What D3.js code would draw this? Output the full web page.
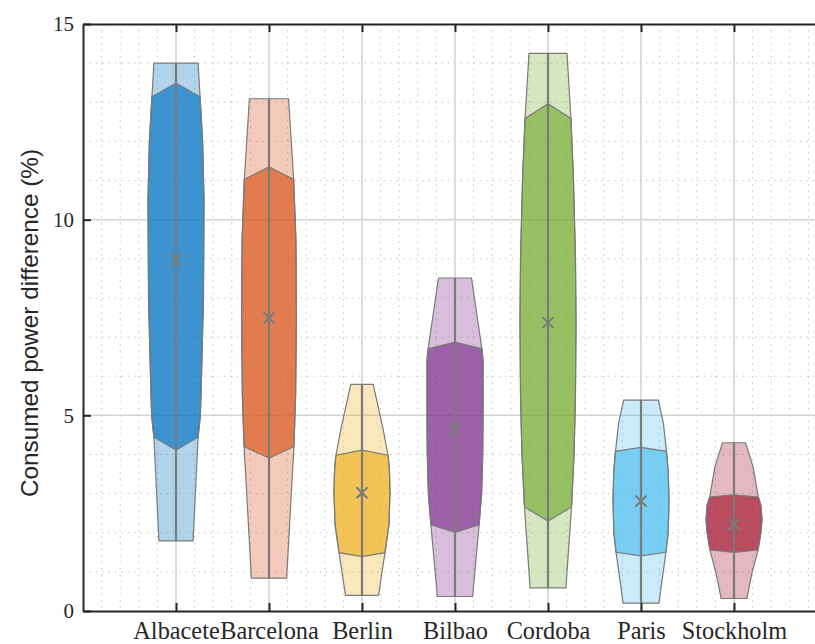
<!DOCTYPE html>
<html>
<head>
<meta charset="utf-8">
<script src="https://cdn.jsdelivr.net/npm/d3@7"></script>
<style>
  html, body { margin: 0; padding: 0; background: #fff; }
  svg { display: block; }
</style>
</head>
<body>
<svg id="chart" width="815" height="644"></svg>
<script>
// Consumed power difference per city, drawn as violins
const cities = ["Albacete", "Barcelona", "Berlin", "Bilbao", "Cordoba", "Paris", "Stockholm"];
const colors = ["#0072BD", "#D95319", "#EDB120", "#7E2F8E", "#77AC30", "#4DBEEE", "#A2142F"];

const minValues  = [1.79, 0.84, 0.40, 0.37, 0.59, 0.20, 0.32];
const maxValues  = [14.00, 13.09, 5.79, 8.51, 14.25, 5.39, 4.30];
const q1Values   = [4.11, 3.91, 1.39, 2.01, 2.30, 1.41, 1.50];
const q3Values   = [13.49, 11.35, 4.11, 6.87, 12.96, 4.18, 2.97];
const q1Edges    = [4.44, 4.20, 1.49, 2.20, 2.66, 1.50, 1.56];
const q3Edges    = [13.14, 11.03, 3.98, 6.70, 12.58, 4.08, 2.91];
const meanValues = [8.97, 7.49, 3.02, 4.64, 7.37, 2.81, 2.21];

// Kernel density profiles: [value, relative density]
const densities = [
  [[1.79,0.61],[4.44,0.79],[5.0,0.87],[6.0,0.91],[8.0,0.98],[10.5,1.0],[12.0,0.95],[13.14,0.86],[14.00,0.79]],
  [[0.84,0.63],[4.20,0.89],[5.5,0.95],[7.5,0.98],[9.5,0.96],[11.03,0.88],[13.09,0.70]],
  [[0.40,0.59],[1.49,0.82],[2.2,0.96],[3.0,1.0],[3.6,0.98],[3.98,0.93],[4.7,0.74],[5.79,0.40]],
  [[0.37,0.63],[2.20,0.86],[3.0,0.95],[4.0,0.99],[5.0,1.0],[6.4,1.0],[6.70,0.96],[8.51,0.59]],
  [[0.59,0.64],[2.66,0.84],[4.0,0.93],[5.5,0.98],[7.4,1.0],[9.0,0.98],[11.0,0.91],[12.58,0.82],[14.25,0.68]],
  [[0.20,0.64],[1.50,0.89],[2.0,0.97],[2.84,1.0],[3.6,0.97],[4.08,0.91],[4.8,0.80],[5.39,0.62]],
  [[0.32,0.46],[0.96,0.64],[1.56,0.86],[2.0,0.96],[2.33,1.0],[2.7,0.96],[2.91,0.87],[3.69,0.68],[4.30,0.41]]
];

const yTicks = [0, 5, 10, 15];

const svg = d3.select("#chart");
const plotLeft = 83, plotTop = 24, plotBottom = 611;

const x = d3.scaleLinear().domain([0, 8]).range([plotLeft, plotLeft + 8 * 93]);
const y = d3.scaleLinear().domain([0, 15]).range([plotBottom, plotTop]);
const step = x(1) - x(0);
const w = d3.scaleLinear().domain([0, 1]).range([0, 0.301 * step]);

const xRight = x(8);

// grid: minor dotted
const grid = svg.append("g");
const minorY = d3.range(1, 15).filter(v => v % 5 !== 0);
grid.selectAll("line.my").data(minorY).join("line")
  .attr("x1", plotLeft).attr("x2", xRight)
  .attr("y1", d => y(d)).attr("y2", d => y(d))
  .attr("stroke", "#b8b8b8").attr("stroke-width", 1)
  .attr("stroke-dasharray", "1.2,5.2");
const minorX = d3.range(1, 40).filter(k => k % 5 !== 0).map(k => k / 5);
grid.selectAll("line.mx").data(minorX).join("line")
  .attr("x1", d => x(d)).attr("x2", d => x(d))
  .attr("y1", plotTop).attr("y2", plotBottom)
  .attr("stroke", "#b8b8b8").attr("stroke-width", 1)
  .attr("stroke-dasharray", "1.2,5.2");
// grid: major solid
grid.selectAll("line.My").data([5, 10]).join("line")
  .attr("x1", plotLeft).attr("x2", xRight)
  .attr("y1", d => y(d)).attr("y2", d => y(d))
  .attr("stroke", "#d4d4d4").attr("stroke-width", 1.5);
grid.selectAll("line.Mx").data(d3.range(1, 8)).join("line")
  .attr("x1", d => x(d)).attr("x2", d => x(d))
  .attr("y1", plotTop).attr("y2", plotBottom)
  .attr("stroke", "#d9d9d9").attr("stroke-width", 1.8);

// violins
const gray = "#7a7a7a";
const violins = svg.append("g");
cities.forEach((c, i) => {
  const cx = x(i + 1);
  const prof = densities[i];
  const g = violins.append("g");

  const outline = prof.map(([v, d]) => [cx + w(d), y(v)])
    .concat(prof.slice().reverse().map(([v, d]) => [cx - w(d), y(v)]));
  g.append("path")
    .attr("d", d3.line()(outline) + "Z")
    .attr("fill", colors[i]).attr("fill-opacity", 0.3)
    .attr("stroke", gray).attr("stroke-width", 1.2);

  const mid = prof.filter(([v]) => v >= q1Edges[i] - 1e-9 && v <= q3Edges[i] + 1e-9);
  const inner = mid.map(([v, d]) => [cx + w(d), y(v)])
    .concat([[cx, y(q3Values[i])]])
    .concat(mid.slice().reverse().map(([v, d]) => [cx - w(d), y(v)]))
    .concat([[cx, y(q1Values[i])]]);
  g.append("path")
    .attr("d", d3.line()(inner) + "Z")
    .attr("fill", colors[i]).attr("fill-opacity", 0.66)
    .attr("stroke", gray).attr("stroke-width", 1.2);

  g.append("line")
    .attr("x1", cx).attr("x2", cx)
    .attr("y1", y(minValues[i])).attr("y2", y(maxValues[i]))
    .attr("stroke", gray).attr("stroke-width", 2.2);

  const my = y(meanValues[i]), s = 5.5;
  g.append("path")
    .attr("d", `M${cx - s},${my - s}L${cx + s},${my + s}M${cx - s},${my + s}L${cx + s},${my - s}`)
    .attr("stroke", gray).attr("stroke-width", 2).attr("fill", "none");
});

// axes
const axisColor = "#262626";
const serif = "'Liberation Serif', 'Times New Roman', serif";

const yAxis = svg.append("g").attr("transform", `translate(${plotLeft},0)`)
  .call(d3.axisLeft(y).tickValues(yTicks).tickSize(-8).tickSizeOuter(0).tickPadding(9).tickFormat(d3.format("d")));
yAxis.selectAll("text").attr("font-family", serif).attr("font-size", 21).attr("fill", axisColor);

const xAxis = svg.append("g").attr("transform", `translate(0,${plotBottom})`)
  .call(d3.axisBottom(x).tickValues(d3.range(1, 8)).tickSize(-8).tickSizeOuter(0).tickPadding(11)
    .tickFormat(d => cities[d - 1]));
xAxis.selectAll("text").attr("font-family", serif).attr("font-size", 24.3).attr("fill", axisColor);

const topAxis = svg.append("g").attr("transform", `translate(0,${plotTop})`)
  .call(d3.axisTop(x).tickValues(d3.range(1, 8)).tickSize(-8).tickSizeOuter(0).tickFormat(""));

[yAxis, xAxis, topAxis].forEach(a => {
  a.select(".domain").attr("stroke", axisColor).attr("stroke-width", 2);
  a.selectAll(".tick line").attr("stroke", axisColor).attr("stroke-width", 2);
});

svg.append("text")
  .attr("transform", `translate(38,323) rotate(-90)`)
  .attr("text-anchor", "middle")
  .attr("font-family", "'Liberation Sans', Arial, sans-serif")
  .attr("font-size", 24.3)
  .attr("fill", axisColor)
  .text("Consumed power difference (%)");
</script>
</body>
</html>
